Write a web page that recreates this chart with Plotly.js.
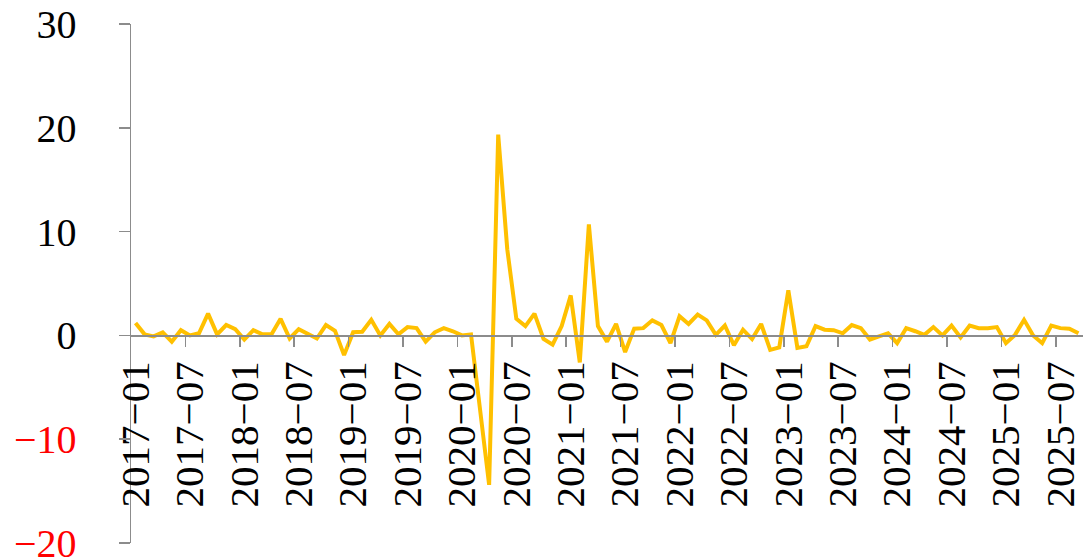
<!DOCTYPE html>
<html><head><meta charset="utf-8">
<script src="https://cdn.plot.ly/plotly-3.0.1.min.js"></script>
<style>html,body{margin:0;padding:0;background:#fff}#chart{width:1083px;height:559px}</style>
</head><body><div id="chart"></div>
<script>
// Monthly categories 2017-01 .. 2025-09
const startYear = 2017;
const monthCount = 105;
const months = [];
for (let i = 0; i < monthCount; i++) {
  const y = startYear + Math.floor(i / 12);
  const m = (i % 12) + 1;
  months.push(y + '-' + (m < 10 ? '0' + m : '' + m));
}

// Series values
const values = [
  1.2, 0.1, -0.1, 0.3, -0.6, 0.5, 0.0, 0.2, 2.1, 0.1, 1.0, 0.6,
  -0.4, 0.5, 0.1, 0.1, 1.6, -0.3, 0.6, 0.2, -0.3, 1.0, 0.45, -1.9,
  0.3, 0.35, 1.5, 0.0, 1.1, 0.1, 0.8, 0.7, -0.6, 0.3, 0.7, 0.4,
  0.0, 0.1, -7.0, -14.4, 19.35, 8.3, 1.6, 0.9, 2.1, -0.35, -0.9, 0.9,
  3.85, -2.6, 10.7, 0.9, -0.6, 1.1, -1.6, 0.65, 0.7, 1.45, 1.0, -0.75,
  1.85, 1.1, 2.0, 1.45, 0.05, 0.95, -0.95, 0.55, -0.35, 1.1, -1.4, -1.15,
  4.35, -1.2, -1.05, 0.9, 0.55, 0.5, 0.2, 1.0, 0.7, -0.4, -0.1, 0.2,
  -0.75, 0.7, 0.4, 0.05, 0.8, 0.0, 0.95, -0.2, 0.95, 0.7, 0.7, 0.8,
  -0.75, 0.05, 1.5, 0.0, -0.75, 0.95, 0.7, 0.65, 0.2
];

// Tick labels
const yTickVals = [-20, -10, 0, 10, 20, 30];
const yTickText = ['<span style="color:#ff0000">\u221220</span>', '<span style="color:#ff0000">\u221210</span>', '0', '10', '20', '30'];
const xTickVals = months.filter((m, i) => i % 6 === 0);
const xTickText = xTickVals.map(m => m.replace('-', '\u2212'));
const xBoundaryTicks = [];
for (let k = 6; k < monthCount; k += 6) xBoundaryTicks.push(k - 0.5);

const axisColor = '#8c8c8c';
const fontFamily = '"Liberation Serif", "DejaVu Serif", serif';
const zeroPos = (0 - yTickVals[0]) / (yTickVals[yTickVals.length - 1] - yTickVals[0]);

const traces = [
  {
    x: months, y: values, type: 'scatter', mode: 'lines',
    line: {color: '#FFC000', width: 4},
    xaxis: 'x', yaxis: 'y', showlegend: false, hoverinfo: 'x+y'
  },
  {
    x: [0], y: [null], type: 'scatter', mode: 'lines',
    xaxis: 'x2', yaxis: 'y', showlegend: false, hoverinfo: 'skip'
  }
];

const layout = {
  width: 1083, height: 559,
  margin: {l: 131, r: 0, t: 24, b: 16},
  paper_bgcolor: '#ffffff', plot_bgcolor: '#ffffff',
  font: {family: fontFamily, size: 40, color: '#000000'},
  showlegend: false,
  xaxis: {
    type: 'category', categoryorder: 'array', categoryarray: months,
    range: [-0.5, monthCount - 0.5],
    anchor: 'free', position: zeroPos,
    showline: true, linecolor: axisColor, linewidth: 1.5,
    ticks: '', showgrid: false, zeroline: false,
    tickmode: 'array', tickvals: xTickVals, ticktext: xTickText,
    tickangle: -90, ticklabelstandoff: 8, ticklabeloverflow: 'allow',
    tickfont: {family: fontFamily, size: 41, color: '#000000'}
  },
  xaxis2: {
    type: 'linear', overlaying: 'x',
    range: [-0.5, monthCount - 0.5],
    anchor: 'free', position: zeroPos,
    showline: false, showgrid: false, zeroline: false,
    ticks: 'outside', ticklen: 11, tickwidth: 1.5, tickcolor: axisColor,
    tickmode: 'array', tickvals: xBoundaryTicks, showticklabels: false
  },
  yaxis: {
    range: [yTickVals[0], yTickVals[yTickVals.length - 1]],
    showline: true, linecolor: axisColor, linewidth: 1.5,
    ticks: 'outside', ticklen: 11, tickwidth: 1.5, tickcolor: axisColor,
    showgrid: false, zeroline: false,
    tickmode: 'array', tickvals: yTickVals, ticktext: yTickText,
    ticklabelstandoff: 34, ticklabeloverflow: 'allow',
    tickfont: {family: fontFamily, size: 40, color: '#000000'}
  }
};

Plotly.newPlot('chart', traces, layout, {staticPlot: true, displayModeBar: false});
</script>
</body></html>
